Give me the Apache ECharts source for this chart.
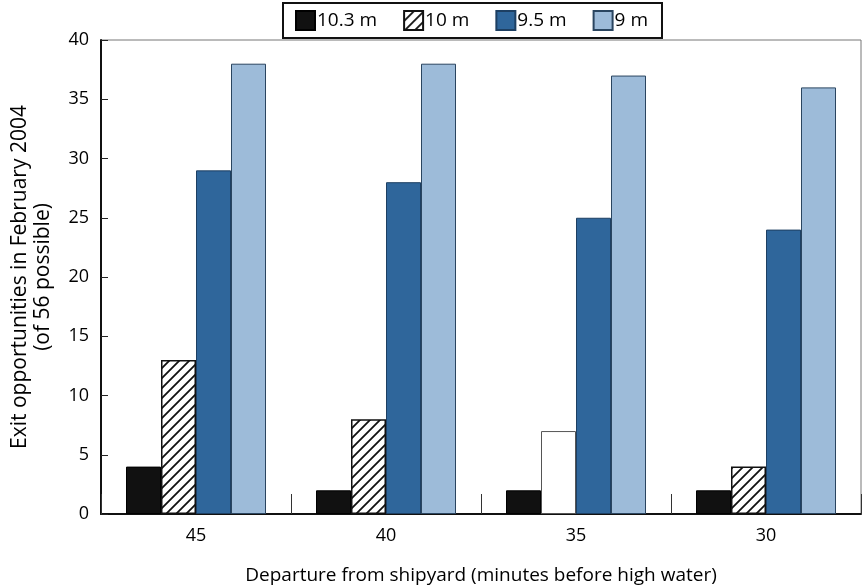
<!DOCTYPE html>
<html>
<head>
<meta charset="utf-8">
<script src="https://cdn.jsdelivr.net/npm/echarts@6/dist/echarts.min.js"></script>
<style>
html,body{margin:0;padding:0;background:#fff;}
#chart{width:862px;height:587px;}
</style>
</head>
<body>
<div id="chart"></div>
<script>
const categories = ['45', '40', '35', '30'];
const seriesNames = ['10.3 m', '10 m', '9.5 m', '9 m'];
const values103 = [4, 2, 2, 2];
const values10 = [13, 8, 7, 4];
const values95 = [29, 28, 25, 24];
const values9 = [38, 38, 37, 36];
const yTicks = { min: 0, max: 40, interval: 5 };
const xTitle = 'Departure from shipyard (minutes before high water)';
const yTitle = 'Exit opportunities in February 2004\n(of 56 possible)';

function hatchPattern() {
  const c = document.createElement('canvas');
  const s = 10;
  c.width = s; c.height = s;
  const ctx = c.getContext('2d');
  ctx.fillStyle = '#ffffff';
  ctx.fillRect(0, 0, s, s);
  ctx.strokeStyle = '#111111';
  ctx.lineWidth = 1.8;
  ctx.beginPath();
  ctx.moveTo(-2, s + 2); ctx.lineTo(s + 2, -2);
  ctx.moveTo(-2 - s, s + 2); ctx.lineTo(2, -2);
  ctx.moveTo(s - 2, s + 2); ctx.lineTo(2 * s + 2, -2);
  ctx.stroke();
  return c;
}
const hatch = { image: hatchPattern(), repeat: 'repeat' };

const chart = echarts.init(document.getElementById('chart'), null, { renderer: 'canvas' });
const font = '"Open Sans", "Noto Sans", sans-serif';

const data10 = values10.map((v, i) => i === 2
  ? { value: v, itemStyle: { color: '#ffffff', borderColor: '#555555', borderWidth: 1 } }
  : v);

chart.setOption({
  animation: false,
  backgroundColor: '#ffffff',
  textStyle: { fontFamily: font },
  grid: {
    left: 101, right: 1, top: 40, bottom: 73,
    containLabel: false, outerBoundsMode: 'none',
    show: true, borderColor: '#777777', borderWidth: 1, backgroundColor: 'transparent'
  },
  legend: {
    data: seriesNames,
    left: 283, top: 3,
    itemWidth: 19, itemHeight: 19, itemGap: 26,
    padding: [7, 14, 7, 12],
    borderColor: '#111111', borderWidth: 2,
    backgroundColor: '#ffffff',
    textStyle: { fontFamily: font, fontSize: 19, color: '#000000', padding: [0, 0, 0, -3] },
    icon: 'rect'
  },
  xAxis: {
    type: 'category',
    data: categories,
    name: xTitle,
    nameLocation: 'middle',
    nameGap: 52,
    nameTextStyle: { fontFamily: font, fontSize: 19, color: '#000000' },
    axisLine: { lineStyle: { color: '#111111', width: 2 } },
    axisTick: { show: true, inside: true, length: 20, lineStyle: { color: '#333333', width: 1 } },
    axisLabel: { fontFamily: font, fontSize: 18, color: '#000000', margin: 13 }
  },
  yAxis: {
    type: 'value',
    min: yTicks.min, max: yTicks.max, interval: yTicks.interval,
    name: yTitle,
    nameLocation: 'middle',
    nameRotate: 90,
    nameGap: 46,
    nameTextStyle: { fontFamily: font, fontSize: 21, color: '#000000', lineHeight: 23 },
    axisLine: { show: true, lineStyle: { color: '#111111', width: 2 } },
    axisTick: { show: true, inside: true, length: 7, lineStyle: { color: '#222222', width: 1 } },
    axisLabel: { fontFamily: font, fontSize: 18, color: '#000000', margin: 12 },
    splitLine: { show: false }
  },
  series: [
    {
      name: seriesNames[0], type: 'bar', data: values103,
      barWidth: 35, barGap: '0%',
      itemStyle: { color: '#111111', borderColor: '#000000', borderWidth: 1 }
    },
    {
      name: seriesNames[1], type: 'bar', data: data10,
      barWidth: 35, barGap: '0%',
      itemStyle: { color: hatch, borderColor: '#111111', borderWidth: 1.5 }
    },
    {
      name: seriesNames[2], type: 'bar', data: values95,
      barWidth: 35, barGap: '0%',
      itemStyle: { color: '#2f669b', borderColor: '#1d3f62', borderWidth: 1 }
    },
    {
      name: seriesNames[3], type: 'bar', data: values9,
      barWidth: 35, barGap: '0%',
      itemStyle: { color: '#9dbbd9', borderColor: '#2a4560', borderWidth: 1 }
    }
  ]
});
</script>
</body>
</html>
